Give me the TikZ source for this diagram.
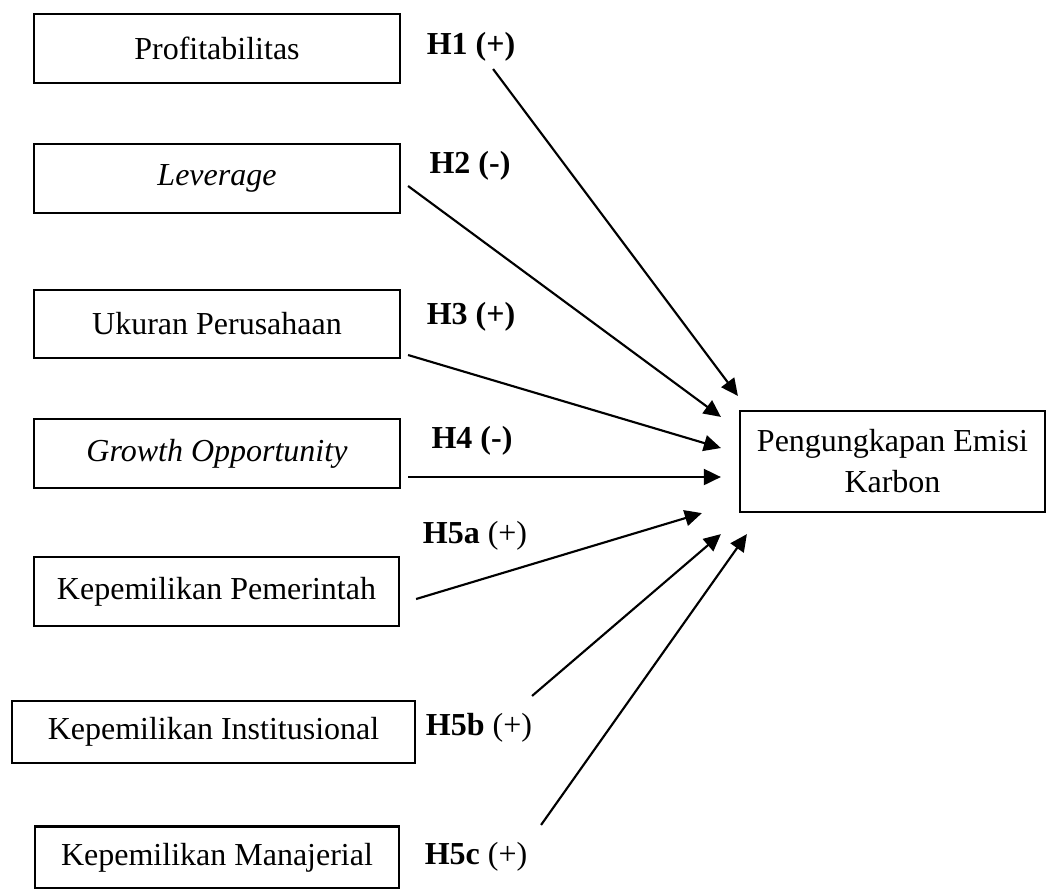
\documentclass[tikz,border=0pt]{standalone}
\usepackage{fontspec}
\setmainfont{Liberation Serif}
\usetikzlibrary{arrows.meta}

\begin{document}
\begin{tikzpicture}[x=0.375pt, y=-0.375pt, every node/.style={font=\fontsize{12}{15.4}\selectfont}, >={Triangle[length=6.4pt, width=6pt]}, var/.style={draw, line width=0.8pt, inner sep=0pt, minimum width=137.25pt, minimum height=25.9pt}, link/.style={->, line width=0.8pt}]
	\useasboundingbox (0,0) rectangle (1047,888);
	\node[var] (prof) at (217,48.5) {Profitabilitas};
	\node[var] (lev) at (217,178.5) {\textit{Leverage}};
	\node[var, minimum height=25.5pt] (size) at (217,324) {Ukuran Perusahaan};
	\node[var] (growth) at (217,453.5) {\textit{Growth Opportunity}};
	\node[var, minimum width=136.9pt] (gov) at (216.5,591.5) {Kepemilikan Pemerintah};
	\node[var, minimum width=151.1pt, minimum height=23.25pt] (inst) at (213.5,732) {Kepemilikan Institusional};
	\node[var, minimum width=136.5pt, minimum height=23.25pt] (man) at (217,857.5) {Kepemilikan Manajerial};
	\node[var, align=center, minimum width=114.4pt, minimum height=37.9pt] (peb) at (892.5,461.5) {Pengungkapan Emisi\\Karbon};
	% hipotesis
	\node (h1) at (471,47) {\textbf{H1 (+)}};
	\node (h2) at (470,166) {\textbf{H2 (-)}};
	\node (h3) at (471,317) {\textbf{H3 (+)}};
	\node (h4) at (472,441) {\textbf{H4 (-)}};
	\node (h5a) at (475,536) {\textbf{H5a} (+)};
	\node (h5b) at (479,728) {\textbf{H5b} (+)};
	\node (h5c) at (476,857) {\textbf{H5c} (+)};
	% panah
	\draw[link] ([shift={(92,20.5)}]prof.east) -- ([shift={(-1,-14)}]peb.north west);
	\draw[link] ([shift={(7,7.5)}]lev.east) -- ([shift={(-18,7)}]peb.north west);
	\draw[link] ([shift={(7,31)}]size.east) -- ([shift={(-18,-13.5)}]peb.west);
	\draw[link] ([shift={(7,23.5)}]growth.east) -- ([shift={(-18,15.5)}]peb.west);
	\draw[link] ([shift={(16,7.5)}]gov.east) -- ([shift={(-37,0)}]peb.south west);
	\draw[link] ([shift={(116,-4)}]inst.north east) -- ([shift={(-18,21)}]peb.south west);
	\draw[link] ([shift={(141,-0.5)}]man.north east) -- ([shift={(8,21)}]peb.south west);
\end{tikzpicture}
\end{document}
